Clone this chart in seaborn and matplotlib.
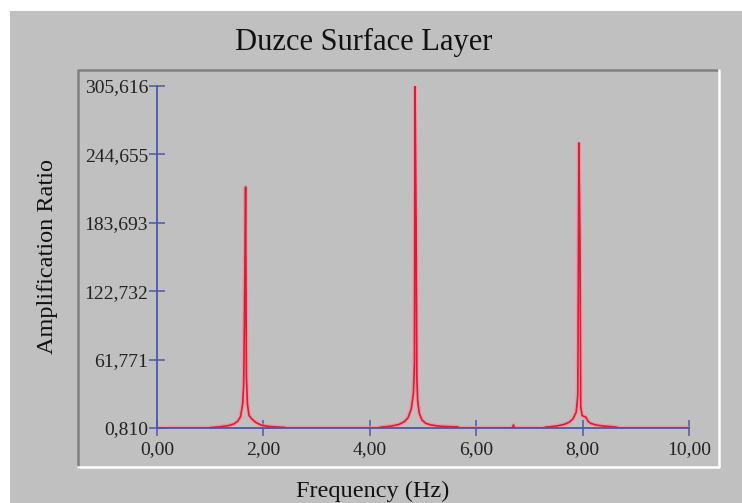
import matplotlib
matplotlib.use("Agg")
import matplotlib.pyplot as plt
import seaborn as sns
import pandas as pd
from matplotlib.lines import Line2D
from matplotlib.patches import Rectangle

# amplification spectrum
freq_hz = [0.00, 0.98, 1.00, 1.20, 1.35, 1.45, 1.52, 1.57, 1.61, 1.63, 1.645, 1.665,
           1.68, 1.70, 1.73, 1.78, 1.85, 1.95, 2.10, 2.40, 2.45,
           4.15, 4.20, 4.40, 4.55, 4.65, 4.72, 4.78, 4.82, 4.84, 4.85, 4.87, 4.885,
           4.90, 4.93, 4.98, 5.05, 5.15, 5.30, 5.50, 5.65, 5.70,
           6.68, 6.70, 6.72,
           7.25, 7.30, 7.50, 7.65, 7.75, 7.82, 7.88, 7.91, 7.93, 7.95, 7.965,
           7.99, 8.03, 8.06, 8.10, 8.15, 8.25, 8.40, 8.60, 8.70, 10.00]
amp_ratio = [0.81, 0.81, 1.2, 2.0, 3.0, 4.5, 7.0, 11.0, 22.0, 40.0, 106.0, 215.6,
             48.0, 22.0, 12.0, 9.0, 6.0, 3.5, 2.2, 1.3, 0.81,
             0.81, 1.5, 2.5, 4.0, 6.5, 10.0, 18.0, 32.0, 60.0, 305.6, 183.5, 44.0,
             25.0, 14.0, 8.0, 5.0, 3.5, 2.5, 2.0, 1.8, 0.81,
             0.81, 3.5, 0.81,
             0.81, 1.5, 2.5, 4.0, 6.0, 9.0, 15.0, 30.0, 254.8, 168.4, 20.0,
             12.0, 11.0, 10.5, 7.0, 5.0, 3.5, 2.5, 1.8, 0.81, 0.81]

x_ticks = [0, 2, 4, 6, 8, 10]
x_labels = ["0,00", "2,00", "4,00", "6,00", "8,00", "10,00"]
y_ticks = [0.810, 61.771, 122.732, 183.693, 244.655, 305.616]
y_labels = ["0,810", "61,771", "122,732", "183,693", "244,655", "305,616"]

df = pd.DataFrame({"freq": freq_hz, "amp": amp_ratio})

W, H = 742, 503
bg = "#c0c0c0"
axis_blue = "#4b58a6"
serif = ["Liberation Serif", "DejaVu Serif"]

fig = plt.figure(figsize=(W / 100, H / 100), dpi=100, facecolor=bg)

# white strips at top and left, sunken frame around the chart
fig.patches.append(Rectangle((0, 1 - 11 / H), 1, 11 / H, transform=fig.transFigure,
                             facecolor="white", edgecolor="none", zorder=0))
fig.patches.append(Rectangle((0, 0), 10 / W, 1, transform=fig.transFigure,
                             facecolor="white", edgecolor="none", zorder=0))
fx0, fx1, fy0, fy1 = 78 / W, 719 / W, 1 - 467 / H, 1 - 70 / H
fig.lines.append(Line2D([fx0, fx0, fx1], [fy0, fy1, fy1], transform=fig.transFigure,
                        color="#808080", lw=1.8))
fig.lines.append(Line2D([fx0, fx1, fx1], [fy0, fy0, fy1], transform=fig.transFigure,
                        color="white", lw=1.8))

ax = fig.add_axes([157 / W, 1 - 428 / H, (689 - 157) / W, (428 - 86) / H])
ax.set_zorder(3)
ax.set_facecolor("none")

sns.lineplot(data=df, x="freq", y="amp", color="#ff8a96", lw=3.0, alpha=0.75, ax=ax)
sns.lineplot(data=df, x="freq", y="amp", color="#d21f3a", lw=1.2, ax=ax)

ax.set_xlim(0, 10)
ax.set_ylim(y_ticks[0], y_ticks[-1])
ax.set_xticks(x_ticks)
ax.set_xticklabels(x_labels, fontsize=14, family=serif, color="#222222")
ax.set_yticks(y_ticks)
ax.set_yticklabels(y_labels, fontsize=14, family=serif, color="#222222")
ax.tick_params(direction="inout", length=11, width=1.1, color=axis_blue)
ax.tick_params(axis="x", pad=4)
ax.tick_params(axis="y", pad=1)
ax.set_xlabel("")
ax.set_ylabel("")
for s in ["top", "right"]:
    ax.spines[s].set_visible(False)
for s in ["left", "bottom"]:
    ax.spines[s].set_color(axis_blue)
    ax.spines[s].set_linewidth(1.3)
    ax.spines[s].set_zorder(5)

fig.text(364 / W, 1 - 50 / H, "Duzce Surface Layer", ha="center", va="baseline",
         fontsize=22, family=serif, color="#111111")
fig.text(373 / W, 1 - 497 / H, "Frequency (Hz)", ha="center", va="baseline",
         fontsize=17.5, family=serif, color="#111111")
fig.text(48 / W, 1 - 257 / H, "Amplification Ratio", ha="center", va="center",
         rotation=90, fontsize=17.5, family=serif, color="#111111")

fig.savefig("out.png", dpi=100, facecolor=fig.get_facecolor())
